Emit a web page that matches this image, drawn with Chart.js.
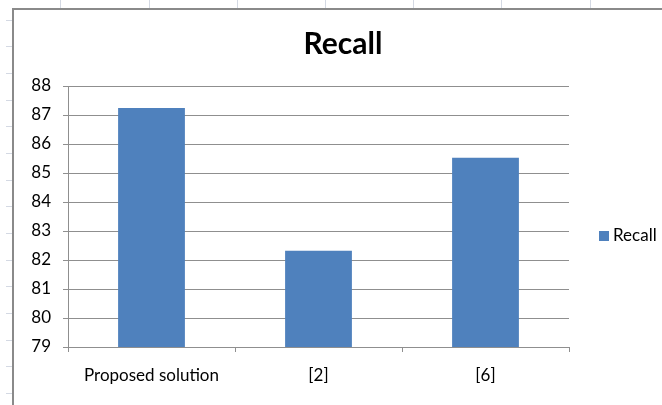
<!DOCTYPE html>
<html>
<head>
<meta charset="utf-8">
<script src="https://cdn.jsdelivr.net/npm/chart.js@4/dist/chart.umd.min.js"></script>
<style>
  html, body { margin: 0; padding: 0; background: #fff; }
  #wrap { width: 662px; height: 405px; position: relative; }
</style>
</head>
<body>
<div id="wrap"><canvas id="c" width="662" height="405"></canvas></div>
<script>
// Recall scores per method
const categories = ['Proposed solution', '[2]', '[6]'];
const recallValues = [87.24, 82.32, 85.53];
const seriesName = 'Recall';
const chartTitle = 'Recall';

const FONT = 'Lato, "Open Sans", sans-serif';
const BAR_BLUE = '#4f81bd';
const GRID_GREY = '#8f8f8f';

// Worksheet backdrop: faint cell ticks and the chart object frame
const sheetFrame = {
  id: 'sheetFrame',
  beforeDraw(chart) {
    const ctx = chart.ctx;
    ctx.save();
    ctx.fillStyle = '#fff';
    ctx.fillRect(0, 0, chart.width, chart.height);
    ctx.strokeStyle = '#d4d9e3';
    ctx.lineWidth = 1;
    for (let i = 0; i < 7; i++) {
      const x = Math.round(60.3 + i * 88.2) + 0.5;
      ctx.beginPath(); ctx.moveTo(x, 0); ctx.lineTo(x, 8); ctx.stroke();
    }
    for (let i = 0; i < 15; i++) {
      const y = Math.round(19.7 + i * 26.67) + 0.5;
      ctx.beginPath(); ctx.moveTo(6, y); ctx.lineTo(12, y); ctx.stroke();
    }
    ctx.strokeStyle = '#8a8a8a';
    ctx.lineWidth = 2;
    ctx.beginPath();
    ctx.moveTo(13, chart.height);
    ctx.lineTo(13, 9);
    ctx.lineTo(chart.width, 9);
    ctx.stroke();
    ctx.restore();
  },
  afterDraw(chart) {
    const ctx = chart.ctx;
    ctx.save();
    // Title
    ctx.fillStyle = '#000';
    ctx.font = 'bold 30px ' + FONT;
    ctx.textAlign = 'center';
    ctx.textBaseline = 'alphabetic';
    ctx.fillText(chartTitle, 343, 54);
    // Legend entry
    const ds = chart.data.datasets[0];
    ctx.fillStyle = ds.backgroundColor;
    ctx.fillRect(599, 231, 10, 10);
    ctx.fillStyle = '#000';
    ctx.font = '17px ' + FONT;
    ctx.textAlign = 'left';
    ctx.textBaseline = 'middle';
    ctx.fillText(ds.label, 613, 236);
    ctx.restore();
  }
};

new Chart(document.getElementById('c'), {
  type: 'bar',
  data: {
    labels: categories,
    datasets: [{
      label: seriesName,
      data: recallValues,
      backgroundColor: BAR_BLUE,
      borderWidth: 0,
      barPercentage: 0.4,
      categoryPercentage: 1.0
    }]
  },
  options: {
    responsive: false,
    animation: false,
    devicePixelRatio: 1,
    layout: { padding: { left: 20, right: 93, top: 86, bottom: 0 } },
    plugins: {
      legend: { display: false },
      title: { display: false },
      tooltip: { enabled: false }
    },
    scales: {
      x: {
        grid: {
          offset: true,
          drawOnChartArea: false,
          drawTicks: true,
          tickLength: 5,
          color: GRID_GREY
        },
        border: { color: GRID_GREY, width: 1 },
        ticks: {
          color: '#000',
          font: { family: FONT, size: 17 },
          padding: 13,
          maxRotation: 0
        },
        afterFit(scale) { scale.height = 58; }
      },
      y: {
        min: 79,
        max: 88,
        ticks: {
          stepSize: 1,
          color: '#000',
          font: { family: FONT, size: 17 },
          padding: 12
        },
        grid: {
          color: GRID_GREY,
          tickLength: 5,
          drawTicks: true
        },
        border: { color: GRID_GREY, width: 1 },
        afterFit(scale) { scale.width = 48; }
      }
    }
  },
  plugins: [sheetFrame]
});
</script>
</body>
</html>
